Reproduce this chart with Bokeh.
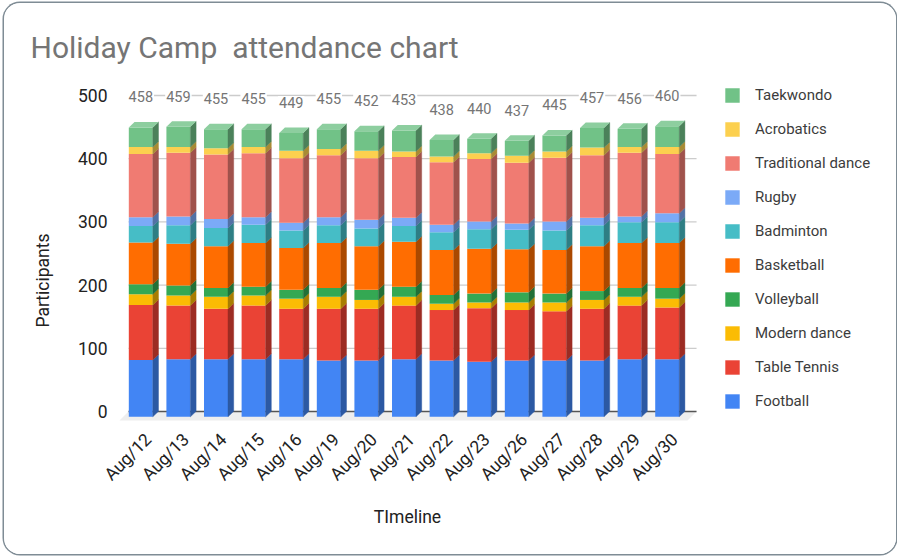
from math import pi
from bokeh.plotting import figure
from bokeh.models import Range1d, FixedTicker, Legend, LegendItem, Label
from bokeh.core.properties import value
from bokeh.embed import file_html
from bokeh.resources import INLINE

dates = ["Aug/12","Aug/13","Aug/14","Aug/15","Aug/16","Aug/19","Aug/20","Aug/21",
         "Aug/22","Aug/23","Aug/26","Aug/27","Aug/28","Aug/29","Aug/30"]
totals = [458,459,455,455,449,455,452,453,438,440,437,445,457,456,460]

football = [90,91,91,91,91,89,89,91,89,87,89,89,89,91,91]
table_tennis = [87,85,80,85,80,82,82,85,80,85,80,78,82,85,82]
modern_dance = [17,16,19,16,16,19,14,14,10,9,12,14,14,14,14]
volleyball = [16,16,14,14,14,14,16,16,14,14,16,14,14,14,17]
basketball = [66,66,66,69,66,71,69,71,71,71,68,69,71,71,71]
badminton = [26,29,29,29,28,28,28,25,28,31,31,31,33,33,33]
rugby = [14,14,14,12,12,13,14,13,12,12,10,14,12,9,14]
traditional_dance = [100,101,102,101,102,98,97,96,99,99,96,101,99,101,94]
acrobatics = [11,9,10,10,12,10,12,9,9,9,11,10,12,9,11]
taekwondo = [31,32,30,28,28,31,31,33,26,23,24,25,31,29,33]

series_names = ["Football","Table Tennis","Modern dance","Volleyball","Basketball",
                "Badminton","Rugby","Traditional dance","Acrobatics","Taekwondo"]
series_values = [football,table_tennis,modern_dance,volleyball,basketball,
                 badminton,rugby,traditional_dance,acrobatics,taekwondo]
colors = ["#4285f4","#ea4335","#fbbc04","#34a853","#ff6d01",
          "#46bdc6","#7baaf7","#f07b72","#fcd04f","#71c287"]
y_ticks = [0,100,200,300,400,500]

FONT = "Roboto"
BAR_W = 0.638
DROP = 8.5
DEPTH_X = 0.152
DEPTH_Y = 8.7
LABEL_LIFT = 40
TICK_SHIFT = 0.2

def shade(c, f):
    r, g, b = int(c[1:3],16), int(c[3:5],16), int(c[5:7],16)
    return "#%02x%02x%02x" % (int(r*f), int(g*f), int(b*f))

def tint(c, f):
    r, g, b = int(c[1:3],16), int(c[3:5],16), int(c[5:7],16)
    return "#%02x%02x%02x" % (int(r+(255-r)*f), int(g+(255-g)*f), int(b+(255-b)*f))

p = figure(width=892, height=551, output_backend="svg", toolbar_location=None,
           x_range=Range1d(-3.625, 20.098), y_range=Range1d(-226.3, 640.8),
           min_border_left=0, min_border_right=0, min_border_top=3, min_border_bottom=0,
           outline_line_color=None, background_fill_color="white", border_fill_color="white")
p.styles = {"position":"absolute","left":"4px","top":"3px",
            "box-shadow":"0 0 0 1.5px #7f8c95","border-radius":"16px","overflow":"hidden"}
p.grid.visible = False

xs = list(range(len(dates)))
# ground
p.patch([-0.5665,-0.327,14.78,14.54],[-14.2,0,0,-14.2],fill_color="#eeeeee",line_color=None)
# grid
p.segment([-0.327]*5,y_ticks[1:],[14.78]*5,y_ticks[1:],line_color="#cccccc",line_width=1.3)
p.segment([-0.327],[0],[14.78],[0],line_color="#555555",line_width=1.5)

cum = [0]*len(dates)
items = []
for name, vals, col in zip(series_names, series_values, colors):
    bottom = [c - DROP for c in cum]
    top = [c + v - DROP for c, v in zip(cum, vals)]
    r = p.vbar(x=xs, bottom=bottom, top=top, width=BAR_W, fill_color=col, line_color=None)
    sx = [[x+BAR_W/2, x+BAR_W/2+DEPTH_X, x+BAR_W/2+DEPTH_X, x+BAR_W/2] for x in xs]
    sy = [[b, b+DEPTH_Y, t+DEPTH_Y, t] for b, t in zip(bottom, top)]
    p.patches(sx, sy, fill_color=shade(col,0.67), line_color=shade(col,0.67), line_width=0.4)
    items.append(LegendItem(label=name, renderers=[r]))
    cum = [c + v for c, v in zip(cum, vals)]

tx = [[x-BAR_W/2, x-BAR_W/2+DEPTH_X, x+BAR_W/2+DEPTH_X, x+BAR_W/2] for x in xs]
ty = [[c-DROP, c-DROP+DEPTH_Y, c-DROP+DEPTH_Y, c-DROP] for c in cum]
p.patches(tx, ty, fill_color=tint(colors[-1],0.2), line_color=None)

p.text(xs, [t+LABEL_LIFT for t in totals], text=[str(t) for t in totals],
       text_font=value(FONT), text_font_size="14.5px", text_color="#757575",
       text_align="center", text_baseline="middle",
       background_fill_color="white", padding=1)

ax = p.xaxis[0]
tick_pos = [i + TICK_SHIFT for i in xs]
ax.ticker = FixedTicker(ticks=tick_pos)
ax.major_label_overrides = {t: d for t, d in zip(tick_pos, dates)}
ax.major_label_orientation = pi/4
ax.major_label_text_font = FONT
ax.major_label_text_font_size = "17.5px"
ax.major_label_text_color = "#222222"
ax.major_label_standoff = 10
ax.axis_line_color = None
ax.major_tick_line_color = None
ax.minor_tick_line_color = None
ax.fixed_location = -14.2

ay = p.yaxis[0]
ay.ticker = FixedTicker(ticks=y_ticks)
ay.major_label_text_font = FONT
ay.major_label_text_font_size = "17.5px"
ay.major_label_text_color = "#222222"
ay.major_label_standoff = 6
ay.axis_line_color = None
ay.major_tick_line_color = None
ay.minor_tick_line_color = None
ay.fixed_location = -0.5665
ay.axis_label = "Participants"
ay.axis_label_text_font = FONT
ay.axis_label_text_font_size = "17.5px"
ay.axis_label_text_font_style = "normal"
ay.axis_label_text_color = "#222222"
ay.axis_label_standoff = 22

p.add_layout(Label(x=26, y=507, x_units="screen", y_units="screen",
                   text="Holiday Camp \u00a0attendance chart",
                   text_font=FONT, text_font_size="30px", text_color="#757575",
                   text_baseline="middle", text_align="left"))
p.add_layout(Label(x=403, y=38, x_units="screen", y_units="screen", text="TImeline",
                   text_font=FONT, text_font_size="17.5px", text_color="#222222",
                   text_baseline="middle", text_align="center"))

legend = Legend(items=list(reversed(items)), location=(719, 144), orientation="vertical",
                glyph_width=18, glyph_height=18, label_height=18, spacing=16,
                label_standoff=14, padding=0, margin=0, border_line_color=None,
                background_fill_alpha=0, label_text_font=FONT, label_text_font_size="15px",
                label_text_color="#3c3c3c")
p.add_layout(legend, "center")

open("out.html", "w").write(file_html(p, INLINE))
